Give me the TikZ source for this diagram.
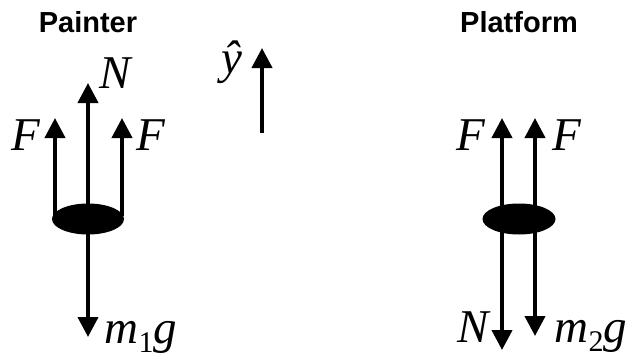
\documentclass[tikz,border=0pt]{standalone}
\usepackage{fontspec}
\setmainfont{Liberation Serif}
\newfontfamily\headfont{Liberation Sans}
\usepackage{tikz}
\usetikzlibrary{arrows.meta,shapes.geometric}

\newcommand{\lowsub}[1]{\raisebox{-0.2em}{\fontsize{30}{30}\selectfont\upshape #1}}

\begin{document}
\begin{tikzpicture}[
  x=1pt, y=-1pt,
  every node/.style={inner sep=0pt},
  force/.style={line width=4pt, -{Triangle[width=20pt,length=20pt]}},
  body/.style={ellipse, fill=black, minimum width=72pt, minimum height=31pt},
  sym/.style={font=\fontsize{47}{47}\selectfont\itshape, anchor=base},
  heading/.style={font=\headfont\bfseries\fontsize{29}{29}\selectfont, anchor=base}
]
\useasboundingbox (0,0) rectangle (628,356);

% titles
\node[heading] (ptitle) at (88,32) {Painter};
\node[heading] (ftitle) at (519,32) {Platform};

% painter
\node[body] (painter) at (88,219) {};
\coordinate (pFl) at (55,216);
\coordinate (pFr) at (122,216);
\coordinate (pNtip) at (88,83);
\coordinate (pFltip) at (55,118);
\coordinate (pFrtip) at (122,118);
\coordinate (pWtip) at (88,337);
\draw[force] (painter.center) -- (pNtip);
\draw[force] (pFl) -- (pFltip);
\draw[force] (pFr) -- (pFrtip);
\draw[force] (painter.center) -- (pWtip);
\node[sym] (pN) at (115,88) {N};
\node[sym] (pFlab) at (26,150) {F};
\node[sym] (pFrab) at (151,150) {F};
\node[sym] (pW) at (141,343) {m\lowsub{1}g};

% axis
\coordinate (ytail) at (262,133);
\coordinate (ytip) at (262,48);
\draw[force] (ytail) -- (ytip);
\node[sym] (ylab) at (232,73) {ŷ};

% platform
\node[body, minimum width=73pt] (platform) at (519,219) {};
\coordinate (fl) at (502,219);
\coordinate (fr) at (535,219);
\coordinate (fFltip) at (502,118);
\coordinate (fFrtip) at (535,118);
\coordinate (fNtip) at (502,350);
\coordinate (fWtip) at (535,336);
\draw[force] (fl) -- (fFltip);
\draw[force] (fr) -- (fFrtip);
\draw[force] (fl) -- (fNtip);
\draw[force] (fr) -- (fWtip);
\node[sym] (fFlab) at (471,150) {F};
\node[sym] (fFrab) at (567,150) {F};
\node[sym] (fN) at (473,342) {N};
\node[sym] (fW) at (591,342) {m\lowsub{2}g};
\end{tikzpicture}
\end{document}
